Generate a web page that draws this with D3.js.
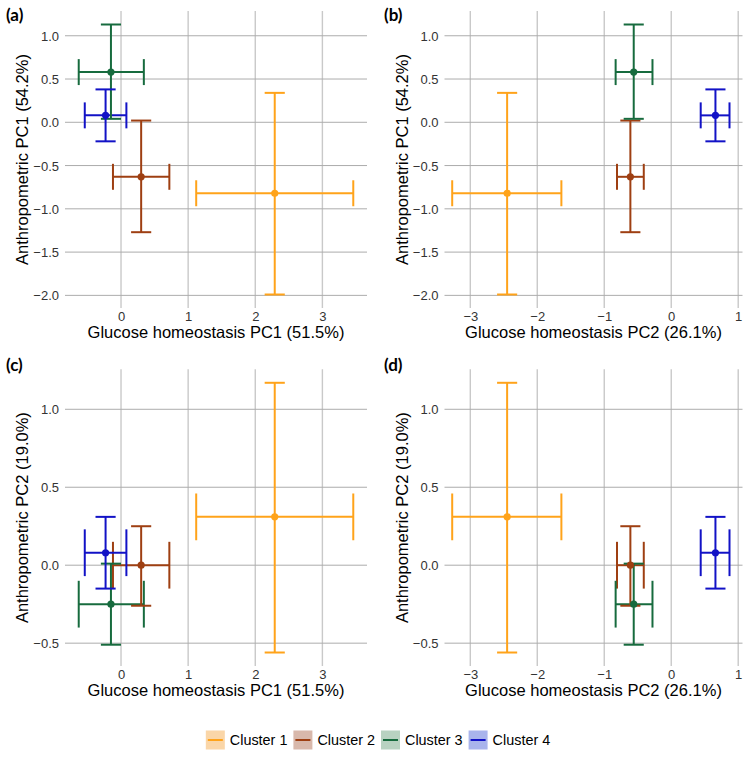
<!DOCTYPE html>
<html>
<head>
<meta charset="utf-8">
<script src="https://cdn.jsdelivr.net/npm/d3@7"></script>
<style>
  html, body { margin: 0; padding: 0; background: #fff; }
  svg { display: block; }
</style>
</head>
<body>
<svg id="chart" width="756" height="763"></svg>
<script>
// ---------------- data ----------------
const clusters = ["Cluster 1", "Cluster 2", "Cluster 3", "Cluster 4"];
const colors = ["#FFA31A", "#9E3F12", "#176B3E", "#1212C6"];
const keyFills = ["#FAD6A8", "#D8B8AB", "#B8D2C1", "#A9B4EC"];

// Glucose homeostasis PC1 (51.5%)
const gluPC1 = [2.29, 0.30, -0.15, -0.23];
const gluPC1Lo = [1.12, -0.12, -0.63, -0.54];
const gluPC1Hi = [3.46, 0.72, 0.34, 0.08];
// Glucose homeostasis PC2 (26.1%)
const gluPC2 = [-2.45, -0.61, -0.56, 0.66];
const gluPC2Lo = [-3.27, -0.81, -0.83, 0.44];
const gluPC2Hi = [-1.64, -0.41, -0.28, 0.87];
// Anthropometric PC1 (54.2%)
const antPC1 = [-0.82, -0.63, 0.58, 0.08];
const antPC1Lo = [-1.99, -1.27, 0.04, -0.22];
const antPC1Hi = [0.34, 0.02, 1.13, 0.38];
// Anthropometric PC2 (19.0%)
const antPC2 = [0.31, 0.00, -0.25, 0.08];
const antPC2Lo = [-0.56, -0.26, -0.51, -0.15];
const antPC2Hi = [1.17, 0.25, 0.01, 0.31];

const ticksGluPC1 = [0, 1, 2, 3];
const ticksGluPC2 = [-3, -2, -1, 0, 1];
const ticksAntPC1 = [-2.0, -1.5, -1.0, -0.5, 0.0, 0.5, 1.0];
const ticksAntPC2 = [-0.5, 0.0, 0.5, 1.0];

const titleGluPC1 = "Glucose homeostasis PC1 (51.5%)";
const titleGluPC2 = "Glucose homeostasis PC2 (26.1%)";
const titleAntPC1 = "Anthropometric PC1 (54.2%)";
const titleAntPC2 = "Anthropometric PC2 (19.0%)";
const panelLabels = ["(a)", "(b)", "(c)", "(d)"];

// ---------------- layout ----------------
const axes = {
  g1: {c: gluPC1, lo: gluPC1Lo, hi: gluPC1Hi, ticks: ticksGluPC1, title: titleGluPC1, fmt: d => d3.format("d")(d)},
  g2: {c: gluPC2, lo: gluPC2Lo, hi: gluPC2Hi, ticks: ticksGluPC2, title: titleGluPC2, fmt: d => d3.format("d")(d), domain: [-3.385, 1.064]},
  a1: {c: antPC1, lo: antPC1Lo, hi: antPC1Hi, ticks: ticksAntPC1, title: titleAntPC1, fmt: d => d3.format(".1f")(d)},
  a2: {c: antPC2, lo: antPC2Lo, hi: antPC2Hi, ticks: ticksAntPC2, title: titleAntPC2, fmt: d => d3.format(".1f")(d)}
};
const capW = 0.3; // errorbar cap width in data units

const panels = [
  {x: "g1", y: "a1", r: {x0: 65, x1: 367, y0: 11, y1: 308}, lx: 6, ly: 21},
  {x: "g2", y: "a1", r: {x0: 444.5, x1: 742.5, y0: 11, y1: 308}, lx: 384, ly: 21},
  {x: "g1", y: "a2", r: {x0: 65, x1: 367, y0: 369.3, y1: 666}, lx: 6, ly: 371},
  {x: "g2", y: "a2", r: {x0: 444.5, x1: 742.5, y0: 369.3, y1: 666}, lx: 384, ly: 371}
];

const svg = d3.select("#chart");
const FONT = "'Liberation Sans', Arial, Helvetica, sans-serif";

function expanded(a) {
  if (a.domain) return a.domain;
  const mn = Math.min(d3.min(a.lo), d3.min(a.c) - capW / 2);
  const mx = Math.max(d3.max(a.hi), d3.max(a.c) + capW / 2);
  const pad = (mx - mn) * 0.05;
  return [mn - pad, mx + pad];
}

panels.forEach((p, pi) => {
  const ax = axes[p.x], ay = axes[p.y];
  const xs = d3.scaleLinear().domain(expanded(ax)).range([p.r.x0, p.r.x1]);
  const ys = d3.scaleLinear().domain(expanded(ay)).range([p.r.y1, p.r.y0]);
  const g = svg.append("g");

  // vertical grid
  g.append("g").selectAll("line").data(ax.ticks).join("line")
    .attr("x1", d => xs(d)).attr("x2", d => xs(d))
    .attr("y1", p.r.y0).attr("y2", p.r.y1)
    .attr("stroke", "#c9c9c9").attr("stroke-width", 1.4);
  // horizontal grid
  g.append("g").selectAll("line").data(ay.ticks).join("line")
    .attr("x1", p.r.x0).attr("x2", p.r.x1)
    .attr("y1", d => ys(d)).attr("y2", d => ys(d))
    .attr("stroke", "#acacac").attr("stroke-width", 1);

  // x axis (labels only)
  const xAxis = d3.axisBottom(xs).tickValues(ax.ticks).tickSize(0).tickPadding(0)
    .tickFormat(d => ax.fmt(d).replace("-", "\u2212"));
  const gx = g.append("g").attr("transform", `translate(0,${p.r.y1 + 4})`).call(xAxis);
  gx.select(".domain").remove();
  gx.selectAll("text").attr("font-family", FONT).attr("font-size", 13).attr("fill", "#333").attr("dy", "0.71em");

  const yAxis = d3.axisLeft(ys).tickValues(ay.ticks).tickSize(0).tickPadding(0)
    .tickFormat(d => ay.fmt(d).replace("-", "\u2212"));
  const gy = g.append("g").attr("transform", `translate(${p.r.x0 - 6},0)`).call(yAxis);
  gy.select(".domain").remove();
  gy.selectAll("text").attr("font-family", FONT).attr("font-size", 13).attr("fill", "#333").attr("dy", "0.35em");

  // axis titles
  g.append("text").attr("x", (p.r.x0 + p.r.x1) / 2).attr("y", p.r.y1 + 24)
    .attr("dy", "0.35em").attr("text-anchor", "middle")
    .attr("font-family", FONT).attr("font-size", 16.5).attr("fill", "#000").text(ax.title);
  g.append("text")
    .attr("transform", `translate(${p.r.x0 - 42.5},${(p.r.y0 + p.r.y1) / 2}) rotate(-90)`)
    .attr("dy", "0.35em").attr("text-anchor", "middle")
    .attr("font-family", FONT).attr("font-size", 16.5).attr("fill", "#000").text(ay.title);

  // panel label
  g.append("text").attr("x", p.lx).attr("y", p.ly)
    .attr("font-family", "Lato, 'Open Sans', sans-serif").attr("font-weight", "bold")
    .attr("font-size", 17).attr("fill", "#000").text(panelLabels[pi]);

  const idx = d3.range(clusters.length);
  const marks = g.append("g").attr("fill", "none").attr("stroke-width", 2);

  // horizontal error bars
  idx.forEach(i => {
    const hb = marks.append("g").attr("stroke", colors[i]);
    hb.append("line").attr("x1", xs(ax.lo[i])).attr("x2", xs(ax.hi[i]))
      .attr("y1", ys(ay.c[i])).attr("y2", ys(ay.c[i]));
    [ax.lo[i], ax.hi[i]].forEach(v => {
      hb.append("line").attr("x1", xs(v)).attr("x2", xs(v))
        .attr("y1", ys(ay.c[i] - capW / 2)).attr("y2", ys(ay.c[i] + capW / 2));
    });
  });
  // vertical error bars
  idx.forEach(i => {
    const vb = marks.append("g").attr("stroke", colors[i]);
    vb.append("line").attr("x1", xs(ax.c[i])).attr("x2", xs(ax.c[i]))
      .attr("y1", ys(ay.lo[i])).attr("y2", ys(ay.hi[i]));
    [ay.lo[i], ay.hi[i]].forEach(v => {
      vb.append("line").attr("x1", xs(ax.c[i] - capW / 2)).attr("x2", xs(ax.c[i] + capW / 2))
        .attr("y1", ys(v)).attr("y2", ys(v));
    });
  });
  // points
  g.append("g").selectAll("circle").data(idx).join("circle")
    .attr("cx", i => xs(ax.c[i])).attr("cy", i => ys(ay.c[i]))
    .attr("r", 3.6).attr("fill", i => colors[i]);
});

// ---------------- legend ----------------
const legend = svg.append("g");
const keyW = 19, keyH = 19, legY = 740;
const items = [];
clusters.forEach((name, i) => {
  const it = legend.append("g");
  it.append("rect").attr("x", 0).attr("y", -keyH / 2).attr("width", keyW).attr("height", keyH)
    .attr("fill", keyFills[i]);
  it.append("line").attr("x1", 2).attr("x2", keyW - 2).attr("y1", 0).attr("y2", 0)
    .attr("stroke", colors[i]).attr("stroke-width", 2);
  const t = it.append("text").attr("x", keyW + 5).attr("y", 0).attr("dy", "0.35em")
    .attr("font-family", FONT).attr("font-size", 14.4).attr("fill", "#000").text(name);
  const w = keyW + 5 + t.node().getComputedTextLength();
  items.push({it, w});
});
const gap = 6;
const total = d3.sum(items, d => d.w) + gap * (items.length - 1);
let x = 378 - total / 2;
items.forEach(d => { d.it.attr("transform", `translate(${x},${legY})`); x += d.w + gap; });
</script>
</body>
</html>
